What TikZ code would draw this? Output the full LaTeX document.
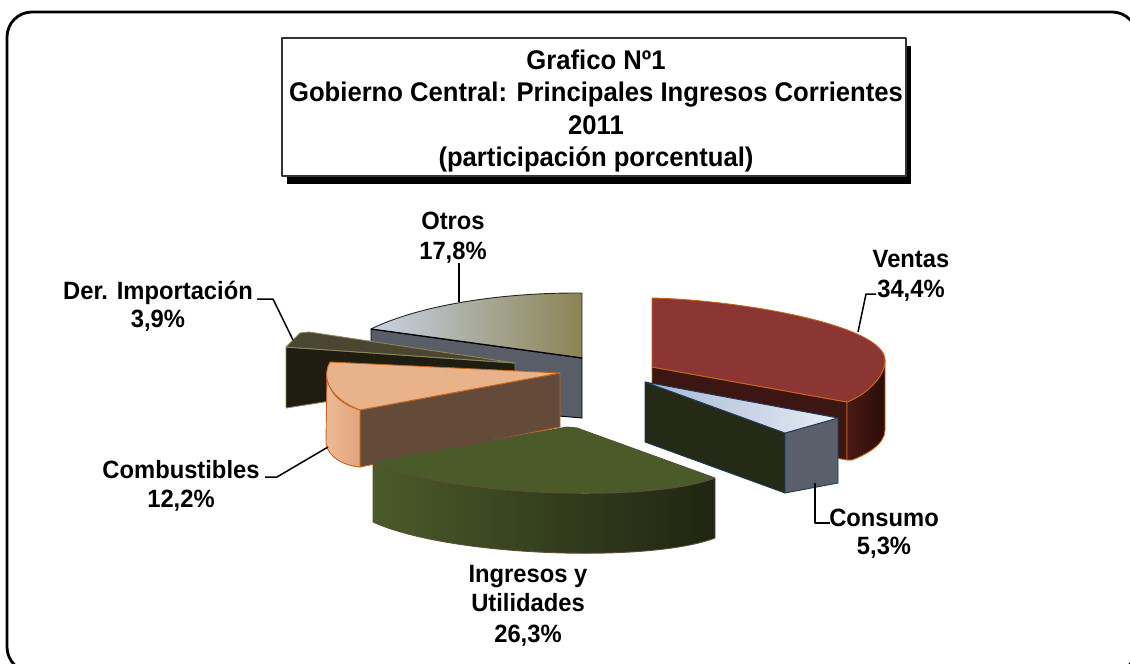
\documentclass[tikz,border=0pt]{standalone}
\usepackage{fontspec}
\setmainfont{Liberation Sans}
\newfontfamily\lblfont{Liberation Sans}[FakeStretch=0.95]
\definecolor{otrosL}{HTML}{C9D3E6}
\definecolor{otrosM}{HTML}{B1C0DC}
\definecolor{otrosR}{HTML}{8A8352}
\definecolor{otrosSide}{HTML}{585D68}
\definecolor{derTop}{HTML}{4B4632}
\definecolor{derFront}{HTML}{1F1D11}
\definecolor{derEdge}{HTML}{8C8658}
\definecolor{combTop}{HTML}{E8B28A}
\definecolor{combSideL}{HTML}{ECBB96}
\definecolor{combSideR}{HTML}{E2A47C}
\definecolor{combFront}{HTML}{634A39}
\definecolor{combEdge}{HTML}{C4651E}
\definecolor{ingTop}{HTML}{4A5A28}
\definecolor{ingSideL}{HTML}{4B5A29}
\definecolor{ingSideM}{HTML}{3E4B22}
\definecolor{ingSideR}{HTML}{1F2512}
\definecolor{ingEdge}{HTML}{5E4E3A}
\definecolor{venTop}{HTML}{8B3632}
\definecolor{venFront}{HTML}{3C1612}
\definecolor{venSideL}{HTML}{4A1A14}
\definecolor{venSideR}{HTML}{2A0D09}
\definecolor{venEdge}{HTML}{C8641A}
\definecolor{conTopL}{HTML}{A5B8D3}
\definecolor{conTopR}{HTML}{E6EDF6}
\definecolor{conFront}{HTML}{242A15}
\definecolor{conSide}{HTML}{5A606B}
\definecolor{conEdge}{HTML}{1F3A5C}
\begin{document}
\begin{tikzpicture}[x=1pt,y=-1pt,line join=round,
  ttl/.style={font=\lblfont\bfseries\fontsize{27}{32}\selectfont,inner sep=0pt,anchor=base},
  lbl/.style={font=\lblfont\bfseries\fontsize{25}{29}\selectfont,inner sep=0pt,anchor=base},
  lead/.style={draw=black,line width=1.5pt},
  facedge/.style={line width=0.9pt}]
\useasboundingbox (0,0) rectangle (1130,664);
\fill[white] (0,0) rectangle (1130,664);
% outer frame
\draw[line width=2.8pt,rounded corners=25pt] (7,12) rectangle (1137,672);
% title box
\fill[black] (287,46) rectangle (911,184);
\draw[fill=white,draw=black!80,line width=1.2pt] (282,38) rectangle (906,176);
\node[ttl] (t1) at (596,69.7) {Grafico Nº1};
\node[ttl] (t2) at (596,101.7) {Gobierno Central: Principales Ingresos Corrientes};
\node[ttl] (t3) at (596,134.2) {2011};
\node[ttl] (t4) at (596,166.7) {(participación porcentual)};
% ---- Otros
\fill[otrosSide,draw=black,facedge] (371,329) -- (582,358) -- (582,418) -- (371,400) -- cycle;
\shade[left color=otrosL,middle color=otrosM,right color=otrosR] (371,329) .. controls (420,305) and (500,293) .. (576,293) -- (582,293) -- (582,358) -- cycle;
\draw[black!85,facedge] (371,329) .. controls (420,305) and (500,293) .. (576,293) -- (582,293) -- (582,358);
\draw[black,line width=1.3pt] (371,329) -- (582,358);
% ---- Der. Importacion
\fill[derFront,draw=derEdge,facedge] (286,347) -- (515,363) -- (515,372) -- (286,408) -- cycle;
\fill[derTop,draw=derEdge,facedge] (286,347) -- (300,333) -- (309,332) -- (515,363) -- cycle;
% ---- Combustibles
\fill[combFront,draw=combEdge,facedge] (360,410) -- (560,373) -- (560,427) -- (360,467) -- cycle;
\shade[left color=combSideL,right color=combSideR,draw=combEdge,facedge] (327,372) .. controls (327,392) and (340,404) .. (360,410) -- (360,467) .. controls (345,466) and (328,458) .. (326,443) -- cycle;
\fill[combTop,draw=combEdge,facedge] (330,362) -- (560,373) -- (360,410) .. controls (322,395) and (324,372) .. (330,362) -- cycle;
% ---- Ingresos y Utilidades
\shade[left color=ingSideL,middle color=ingSideM,right color=ingSideR] (373,462) .. controls (450,497) and (650,503) .. (715,478) -- (715,538) .. controls (650,563) and (450,557) .. (373,522) -- cycle;
\draw[ingEdge,facedge] (373,462) -- (373,522) .. controls (450,557) and (650,563) .. (715,538) -- (715,478);
\fill[ingTop,draw=ingEdge,facedge] (373,462) -- (567,427) -- (577,428) -- (715,478) .. controls (650,503) and (450,497) .. (373,462) -- cycle;
% ---- Ventas
\fill[venFront,draw=venEdge,facedge] (652,367) -- (847,402) -- (847,460) -- (652,425) -- cycle;
\shade[left color=venSideL,right color=venSideR,draw=venEdge,facedge] (847,402) .. controls (865,395) and (885,378) .. (885,360) -- (885,430) .. controls (885,445) and (865,455) .. (852,460) -- (847,460) -- cycle;
\fill[venTop,draw=venEdge,facedge] (652,298) .. controls (740,300) and (885,325) .. (885,360) .. controls (885,378) and (865,395) .. (847,402) -- (652,367) -- cycle;
% ---- Consumo
\fill[conFront,draw=conEdge,facedge] (645,382) -- (785,433) -- (785,493) -- (645,442) -- cycle;
\fill[conSide,draw=conEdge,facedge] (785,433) -- (838,418) -- (838,483) -- (785,493) -- cycle;
\shade[left color=conTopL,right color=conTopR,draw=conEdge,facedge] (645,382) -- (838,418) -- (785,433) -- cycle;
% ---- labels
\node[lbl] (otrosA) at (453,229) {Otros};
\node[lbl] (otrosB) at (453,259) {17,8\%};
\node[lbl] (ventasA) at (911,267) {Ventas};
\node[lbl] (ventasB) at (911,297) {34,4\%};
\node[lbl] (consA) at (884,526) {Consumo};
\node[lbl] (consB) at (884,554) {5,3\%};
\node[lbl] (derA) at (158,299) {Der. Importación};
\node[lbl] (derB) at (158,327) {3,9\%};
\node[lbl] (combA) at (181,478) {Combustibles};
\node[lbl] (combB) at (181,507) {12,2\%};
\node[lbl] (ingA) at (528,582) {Ingresos y};
\node[lbl] (ingB) at (528,611) {Utilidades};
\node[lbl] (ingC) at (528,642) {26,3\%};
% ---- leader lines
\coordinate (oL1) at (459,263); \coordinate (oL2) at (459,302);
\draw[lead] (oL1) -- (oL2);
\coordinate (vL1) at (876,294); \coordinate (vL2) at (866,294); \coordinate (vL3) at (858,332);
\draw[lead] (vL1) -- (vL2) -- (vL3);
\coordinate (cL1) at (815,483); \coordinate (cL2) at (815,523); \coordinate (cL3) at (830,523);
\draw[lead] (cL1) -- (cL2) -- (cL3);
\coordinate (dL1) at (257,299); \coordinate (dL2) at (273,299); \coordinate (dL3) at (293,340);
\draw[lead] (dL1) -- (dL2) -- (dL3);
\coordinate (bL1) at (265,477); \coordinate (bL2) at (277,477); \coordinate (bL3) at (328,447);
\draw[lead] (bL1) -- (bL2) -- (bL3);
\end{tikzpicture}
\end{document}
